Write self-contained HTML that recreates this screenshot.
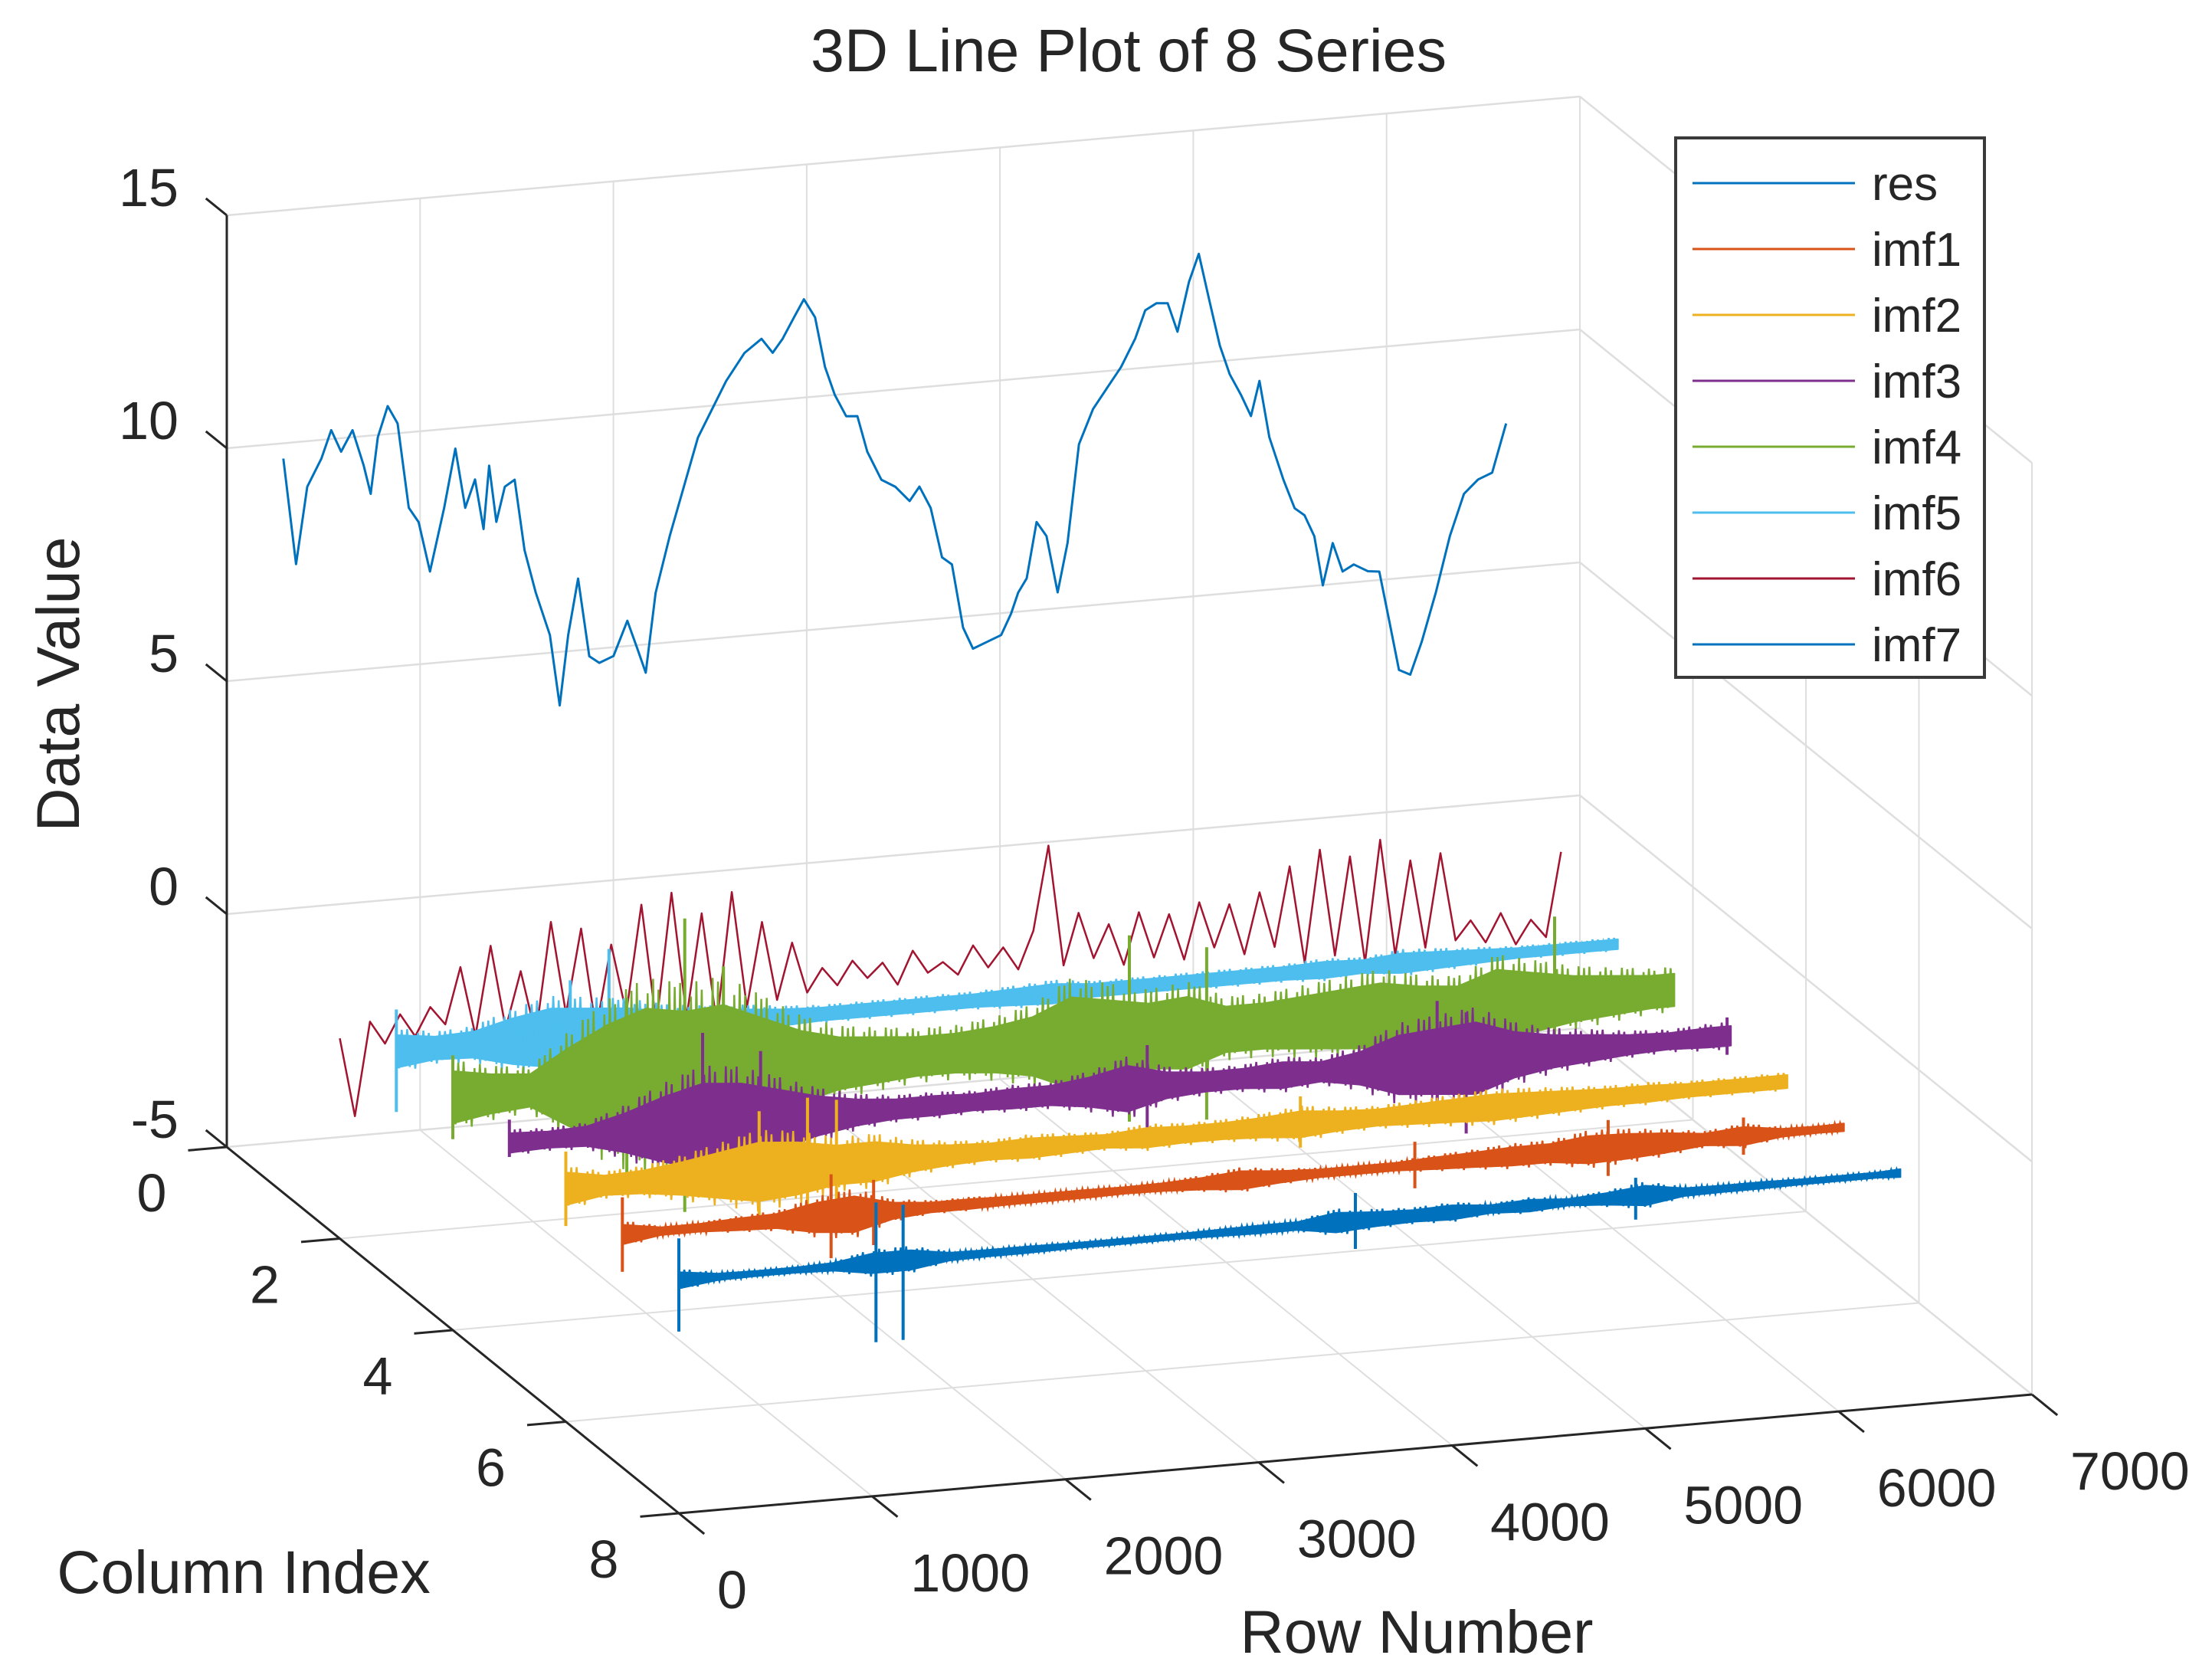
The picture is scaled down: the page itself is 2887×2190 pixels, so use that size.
<!DOCTYPE html>
<html><head><meta charset="utf-8"><style>
html,body{margin:0;padding:0;background:#fff}
svg{display:block}
text{font-family:"Liberation Sans",Arial,sans-serif;fill:#262626}
</style></head><body>
<svg id="chart" width="2887" height="2190" viewBox="0 0 2887 2190" xmlns="http://www.w3.org/2000/svg">
<rect width="2887" height="2190" fill="#fff"/>
<g id="grid"></g>
<g id="series"></g>
<g id="axes"></g>
<text x="1473" y="93" font-size="79" text-anchor="middle">3D Line Plot of 8 Series</text>
<text x="0" y="0" font-size="79" text-anchor="middle" transform="translate(103,893) rotate(-90)">Data Value</text>
<text x="318" y="2079" font-size="79" text-anchor="middle">Column Index</text>
<text x="1849" y="2157" font-size="79" text-anchor="middle">Row Number</text>
<g id="legend">
<rect x="2187" y="180" width="403" height="704" fill="#fff" stroke="#3a3a3a" stroke-width="4"/>
</g>
</svg>
<script>
// ---- data ----
const seriesNames = ["res","imf1","imf2","imf3","imf4","imf5","imf6","imf7"];
const seriesColors = ["#0072BD","#D95319","#EDB120","#7E2F8E","#77AC30","#4DBEEE","#A2142F","#0072BD"];
const seriesCols = [1,7,6,5,4,3,2,8];
const zTicks = [-5,0,5,10,15];
const colTicks = [0,2,4,6,8];
const rowTicks = [0,1000,2000,3000,4000,5000,6000,7000];

const resRows = [0,66,124,197,248,299,358,416,452,489,540,591,649,700,759,832,890,941,992,1036,1065,1102,1146,1197,1248,1306,1379,1430,1474,1525,1583,1635,1708,1780,1832,1875,1926,1999,2072,2145,2218,2291,2386,2474,2532,2583,2642,2693,2751,2802,2853,2912,2970,3021,3094,3167,3240,3291,3349,3408,3459,3517,3568,3641,3714,3765,3802,3846,3897,3948,4006,4057,4116,4189,4261,4334,4407,4459,4517,4575,4626,4685,4736,4794,4845,4896,4955,5006,5050,5101,5174,5232,5283,5334,5378,5429,5480,5538,5611,5670,5721,5772,5830,5889,5962,6035,6108,6181,6254,6326];
const resVals = [10.76,8.47,10.11,10.69,11.28,10.80,11.24,10.46,9.84,11.04,11.69,11.30,9.47,9.14,8.06,9.40,10.65,9.36,9.95,8.87,10.22,9.00,9.74,9.87,8.34,7.41,6.47,4.94,6.44,7.63,5.94,5.78,5.90,6.63,6.01,5.48,7.18,8.37,9.40,10.43,11.01,11.59,12.16,12.43,12.11,12.39,12.83,13.20,12.79,11.71,11.09,10.61,10.59,9.81,9.18,9.00,8.67,8.96,8.48,7.40,7.23,5.85,5.38,5.50,5.62,6.06,6.50,6.79,7.98,7.66,6.43,7.47,9.57,10.30,10.72,11.15,11.73,12.32,12.45,12.43,11.80,12.84,13.43,12.35,11.42,10.79,10.32,9.85,10.59,9.36,8.42,7.79,7.62,7.15,6.08,6.97,6.34,6.47,6.30,6.27,5.20,4.12,4.00,4.68,5.71,6.90,7.78,8.06,8.18,9.21];

const envelopeStep = 200;
const envelopeEnd = 6320;
const imf1Amp = [0.3,0.12,0.12,0.18,0.22,0.45,0.55,0.25,0.15,0.15,0.12,0.12,0.12,0.1,0.12,0.18,0.28,0.18,0.12,0.12,0.12,0.18,0.22,0.28,0.28,0.42,0.38,0.3,0.18,0.28,0.12,0.1,0.12];
const imf2Amp = [0.5,0.3,0.35,0.5,0.7,0.9,0.8,0.6,0.6,0.4,0.3,0.25,0.3,0.25,0.2,0.3,0.25,0.25,0.3,0.4,0.3,0.25,0.3,0.35,0.4,0.35,0.3,0.25,0.25,0.2,0.2,0.2,0.2];
const imf3Amp = [0.3,0.25,0.3,0.6,1.0,1.3,1.2,0.9,0.6,0.4,0.3,0.3,0.25,0.3,0.3,0.45,0.7,0.4,0.3,0.3,0.4,0.3,0.5,0.9,1.0,1.1,0.7,0.5,0.4,0.3,0.25,0.3,0.3];
const imf4Amp = [0.8,0.6,0.5,1.2,1.8,2.2,2.0,2.1,1.6,1.1,0.8,0.7,0.6,0.6,0.7,0.9,1.4,1.2,1.0,1.1,0.7,0.7,0.8,0.9,1.0,0.8,0.7,1.1,0.9,0.7,0.6,0.5,0.5];
const imf5Amp = [0.5,0.35,0.4,0.7,0.9,0.8,0.7,0.5,0.4,0.35,0.25,0.2,0.2,0.2,0.2,0.2,0.25,0.3,0.2,0.2,0.2,0.2,0.2,0.2,0.25,0.2,0.3,0.25,0.2,0.15,0.15,0.15,0.15];
const imf7Amp = [0.25,0.1,0.08,0.08,0.12,0.3,0.3,0.12,0.1,0.1,0.08,0.08,0.08,0.08,0.1,0.12,0.12,0.3,0.22,0.18,0.22,0.12,0.18,0.1,0.18,0.3,0.12,0.1,0.1,0.08,0.08,0.08,0.12];
const swingFactors = [1.0,0.75,0.95,0.6,1.0,0.8,0.55,0.95,0.85,0.7,1.0,0.65,0.9,0.8,0.6,0.95];

const imf1SpikeRows=[0,1080,1300,4100,5100,5800], imf1SpikeLo=[-0.8,-0.9,-0.7,-0.5,-0.6,-0.4], imf1SpikeHi=[0.8,0.9,0.7,0.5,0.6,0.4];
const imf2SpikeRows=[0,1000,1250,1400,3800], imf2SpikeLo=[-0.8,-1.0,-1.2,-1.0,-0.5], imf2SpikeHi=[0.8,1.3,1.5,1.4,0.6];
const imf3SpikeRows=[0,1000,1300,3300,4800,4950,6300], imf3SpikeLo=[-0.3,-1.3,-1.2,-0.9,-1.1,-1.6,-0.4], imf3SpikeHi=[0.5,2.0,1.5,0.9,1.3,1.0,0.4];
const imf4SpikeRows=[0,900,1200,1400,3500,3900,5700], imf4SpikeLo=[-0.9,-2.2,-2.9,-2.5,-1.8,-1.9,-1.0], imf4SpikeHi=[0.9,1.8,3.4,2.3,2.2,1.8,1.8];
const imf5SpikeRows=[0,900,1100], imf5SpikeLo=[-1.3,-0.9,-0.8], imf5SpikeHi=[0.9,1.2,1.8];
const imf7SpikeRows=[0,1020,1160,3500,4950], imf7SpikeLo=[-1.1,-1.7,-1.7,-0.6,-0.5], imf7SpikeHi=[0.9,1.3,1.2,0.6,0.4];

const imf6Step = 78;
const imf6Vals = [-0.7,-2.4,-0.4,-0.9,-0.3,-0.8,-0.2,-0.6,
 0.6,-0.9,1.0,-0.8,0.4,-1.0,1.4,-0.6,1.2,-1.0,0.8,-0.7,1.6,-1.0,1.8,-0.9,1.3,-1.1,1.7,-0.8,1.0,-0.7,0.5,-0.6,
 -0.1,-0.5,0.0,-0.4,-0.1,-0.6,0.1,-0.4,-0.2,-0.5,0.1,-0.4,0.0,-0.5,
 0.3,2.1,-0.5,0.6,-0.4,0.3,-0.6,0.5,-0.5,0.4,-0.6,0.6,-0.4,0.5,-0.6,0.7,-0.5,
 1.2,-0.9,1.5,-0.8,1.3,-1.0,1.6,-0.9,1.1,-0.8,1.2,-0.7,
 -0.3,-0.8,-0.2,-0.9,-0.4,-0.8,1.0];

const ORIGIN=[296,1497], RX=1766/7000, RY=-155/7000, CX=73.75, CY=59.75, ZS=60.8;
function P(r,c,z){return [ORIGIN[0]+r*RX+c*CX, ORIGIN[1]+r*RY+c*CY-(z+5)*ZS];}
const NS="http://www.w3.org/2000/svg";
function mk(tag,parent,attrs){const e=document.createElementNS(NS,tag);for(const k in attrs)e.setAttribute(k,attrs[k]);parent.appendChild(e);return e;}
function seg(parent,a,b,stroke,w){return mk('line',parent,{x1:a[0].toFixed(1),y1:a[1].toFixed(1),x2:b[0].toFixed(1),y2:b[1].toFixed(1),stroke:stroke,'stroke-width':w});}
function pts(arr){return arr.map(p=>p[0].toFixed(1)+','+p[1].toFixed(1)).join(' ');}

const grid=document.getElementById('grid');
const GC="#dedede";
rowTicks.forEach(r=>{const l=seg(grid,P(r,0,-5),P(r,0,15),GC,2);});
zTicks.forEach(z=>{const l=seg(grid,P(0,0,z),P(7000,0,z),GC,2.5);});
rowTicks.forEach(r=>{const l=seg(grid,P(r,0,-5),P(r,8,-5),GC,2);});
colTicks.forEach(c=>{const l=seg(grid,P(0,c,-5),P(7000,c,-5),GC,2);});
colTicks.forEach(c=>{const l=seg(grid,P(7000,c,-5),P(7000,c,15),GC,2);});
zTicks.forEach(z=>{const l=seg(grid,P(7000,0,z),P(7000,8,z),GC,2.5);});

const sg=document.getElementById('series');
function ampAt(amp,r){const f=r/envelopeStep;const i=Math.min(Math.floor(f),amp.length-2);const t=Math.min(f-i,1);return amp[i]*(1-t)+amp[i+1]*t;}
function drawBand(idx,amp,spR,spLo,spHi){
  const col=seriesCols[idx], color=seriesColors[idx];
  const up=[],lo=[];
  amp.forEach((a,i)=>{const r=Math.min(i*envelopeStep,envelopeEnd);up.push(P(r,col,a*0.7));lo.push(P(r,col,-a*0.7));});
  const poly=mk('polygon',sg,{points:pts(up.concat(lo.reverse())),fill:color,stroke:color,'stroke-width':2,'stroke-linejoin':'round'});
  
  
  const zz=[];
  const dr=14;
  for(let k=0,r=0;r<=envelopeEnd;k++,r+=dr){
    const a=ampAt(amp,r)*swingFactors[k%swingFactors.length];
    zz.push(P(r,col,(k%2?-1:1)*a));
  }
  const zl=mk('polyline',sg,{points:pts(zz),fill:'none',stroke:color,'stroke-width':2.5});
  
  
  spR.forEach((r,i)=>{const l=seg(sg,P(r,col,spLo[i]),P(r,col,spHi[i]),color,4);
    
    });
}
{
  const p=resRows.map((r,i)=>P(r,seriesCols[0],resVals[i]));
  const l=mk('polyline',sg,{points:pts(p),fill:'none',stroke:seriesColors[0],'stroke-width':3,'stroke-linejoin':'round'});
  
  
}
{
  const p=imf6Vals.map((v,i)=>P(Math.min(i*imf6Step,envelopeEnd),seriesCols[6],v));
  const l=mk('polyline',sg,{points:pts(p),fill:'none',stroke:seriesColors[6],'stroke-width':2.5,'stroke-linejoin':'round'});
  
  
}
drawBand(5,imf5Amp,imf5SpikeRows,imf5SpikeLo,imf5SpikeHi);
drawBand(4,imf4Amp,imf4SpikeRows,imf4SpikeLo,imf4SpikeHi);
drawBand(3,imf3Amp,imf3SpikeRows,imf3SpikeLo,imf3SpikeHi);
drawBand(2,imf2Amp,imf2SpikeRows,imf2SpikeLo,imf2SpikeHi);
drawBand(1,imf1Amp,imf1SpikeRows,imf1SpikeLo,imf1SpikeHi);
drawBand(7,imf7Amp,imf7SpikeRows,imf7SpikeLo,imf7SpikeHi);

const ax=document.getElementById('axes');
const AC="#262626";
{let l=seg(ax,P(0,0,-5),P(0,0,15),AC,3);}
{let l=seg(ax,P(0,0,-5),P(0,8,-5),AC,3);}
{let l=seg(ax,P(0,8,-5),P(7000,8,-5),AC,3);}
zTicks.forEach(z=>{
  const t=seg(ax,P(0,0,z),P(0,-0.37,z),AC,3);
  
  
  const p=P(0,0,z);
  const tx=mk('text',ax,{x:(p[0]-63).toFixed(1),y:(p[1]-12).toFixed(1),'font-size':70,'text-anchor':'end'});
  tx.textContent=String(z);
  
  
});
colTicks.forEach(c=>{
  const t=seg(ax,P(0,c,-5),P(-200,c,-5),AC,3);
  
  
  const p=P(0,c,-5);
  const tx=mk('text',ax,{x:(p[0]-98).toFixed(1),y:(p[1]+84).toFixed(1),'font-size':70,'text-anchor':'middle'});
  tx.textContent=String(c);
  
  
});
rowTicks.forEach(r=>{
  const t=seg(ax,P(r,8,-5),P(r,8.45,-5),AC,3);
  
  
  const p=P(r,8,-5);
  const tx=mk('text',ax,{x:(p[0]+50).toFixed(1),y:(p[1]+124).toFixed(1),'font-size':70,'text-anchor':'start'});
  tx.textContent=String(r);
  
  
});

const lg=document.getElementById('legend');
seriesNames.forEach((n,i)=>{
  const y=239+i*86;
  const l=mk('line',lg,{x1:2209,y1:y,x2:2421,y2:y,stroke:seriesColors[i],'stroke-width':3});
  
  
  const t=mk('text',lg,{x:2443,y:y+22,'font-size':62});
  t.textContent=n;
  
  
});
</script>
</body></html>
